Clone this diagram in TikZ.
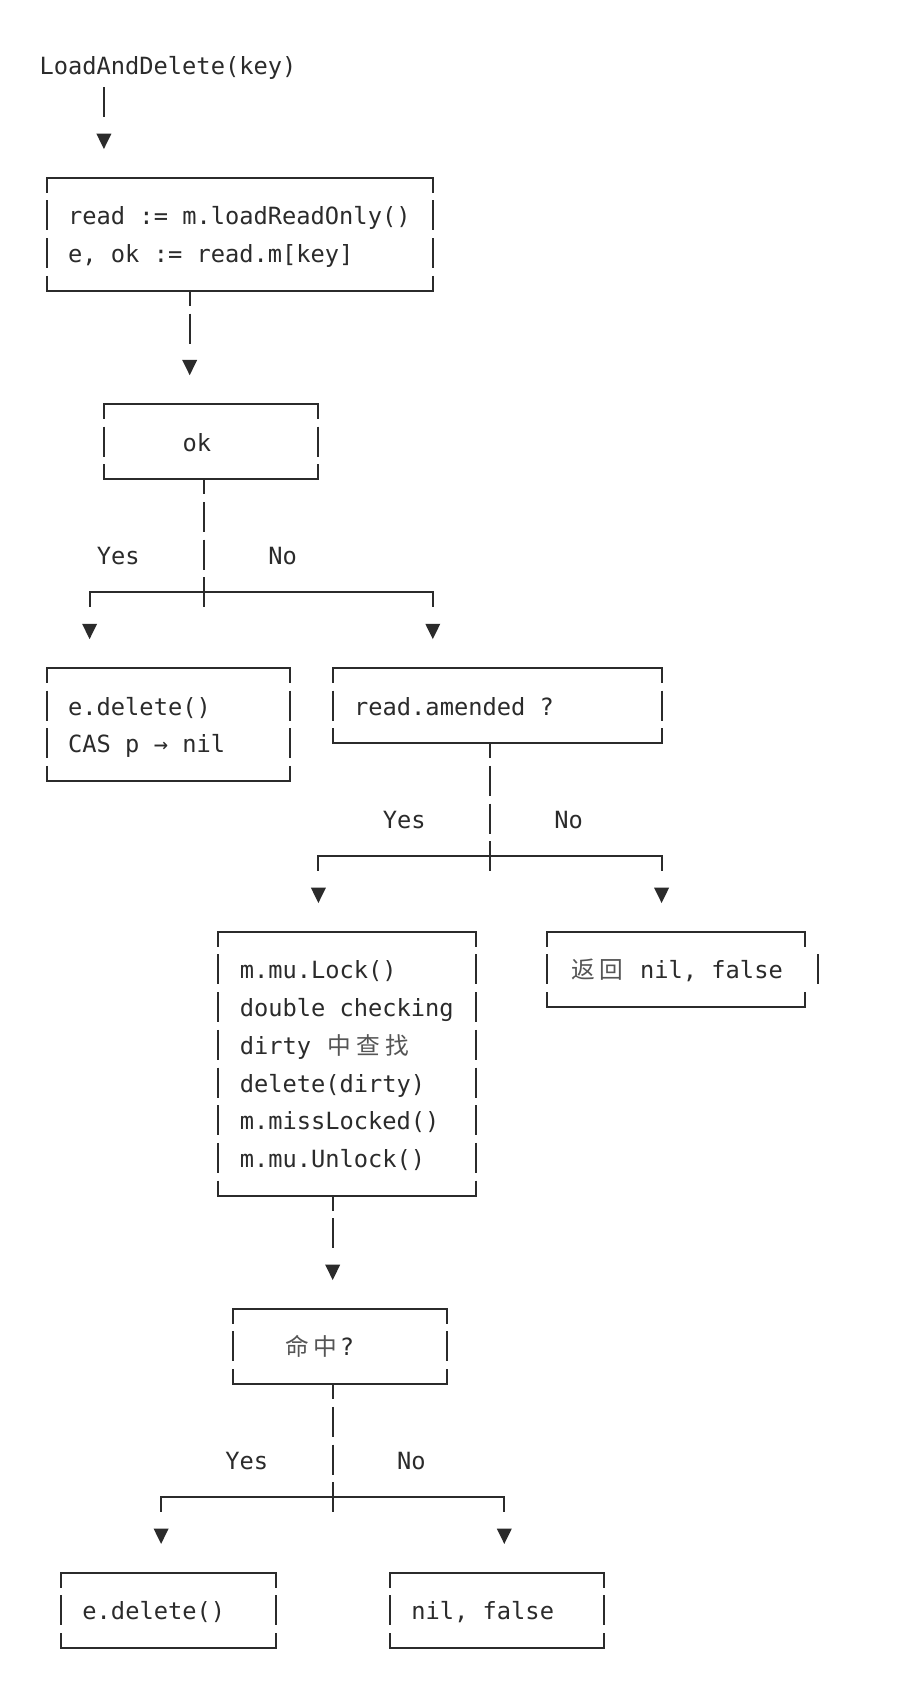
\documentclass[tikz,border=0pt]{standalone}
\usepackage{fontspec}
\setmonofont{DejaVu Sans Mono}
\newfontfamily\cjk{Noto Sans CJK SC}
\usetikzlibrary{fit}
\definecolor{ink}{HTML}{2B2B2B}
\definecolor{zhgray}{HTML}{555555}
\newcommand\zh[1]{\makebox[28.6pt][c]{\cjk\color{zhgray}#1}}
\newcommand\colx[1]{(46.7+14.3*(#1))}
\newcommand\rowy[1]{(64.6+37.7*(#1))}
\newcommand\txtx[1]{(39.55+14.3*(#1))}
\newcommand\basey[1]{(74.1+37.7*(#1))}
\begin{document}
\begin{tikzpicture}[x=1pt,y=-1pt,
  txt/.style={anchor=base west, inner sep=0pt, outer sep=0pt, text=ink,
    font=\fontsize{23.7pt}{28pt}\selectfont\ttfamily},
  frame/.style={draw=none, inner sep=0pt, outer sep=0pt},
  vline/.style={draw=ink, line width=2pt, dash pattern=on 30pt off 7.7pt, dash phase=15pt},
  hline/.style={draw=ink, line width=2pt, line cap=rect},
  sline/.style={draw=ink, line width=2pt}
]
\newcommand\mkframe[5]{%
  \coordinate (#1nw) at ({\colx{#2}},{\rowy{#4}});
  \coordinate (#1se) at ({\colx{#3}},{\rowy{#5}});
  \node[frame, fit=(#1nw)(#1se)] (#1) {};
  \draw[hline] (#1.north west) -- (#1.north east);
  \draw[hline] (#1.south west) -- (#1.south east);
  \draw[vline] (#1.north west) -- (#1.south west);}
\newcommand\rightside[1]{\draw[vline] (#1.north east) -- (#1.south east);}
\newcommand\stem[4]{%
  \coordinate (#1a) at ({\colx{#2}},{\rowy{#3}});
  \coordinate (#1b) at ({\colx{#2}},{\rowy{#4}+15});
  \draw[vline] (#1a) -- (#1b);}
\newcommand\branch[4]{%
  \coordinate (#1l) at ({\colx{#2}},{\rowy{#4}});
  \coordinate (#1r) at ({\colx{#3}},{\rowy{#4}});
  \draw[hline] (#1l) -- (#1r);
  \draw[sline] (#1l) -- ++(0,15);
  \draw[sline] (#1r) -- ++(0,15);}
\newcommand\arrowdown[3]{%
  \coordinate (#1) at ({\colx{#2}},{\rowy{#3}});
  \fill[ink] (#1) ++(-7.5,-6.3) -- ++(15,0) -- ++(-7.5,15.3) -- cycle;}

\fill[white] (0,0) rectangle (922,1701);
\useasboundingbox (0,0) rectangle (922,1701);

% start
\node[txt] (t0) at ({\txtx{0}},{\basey{0}}) {LoadAndDelete(key)};
\coordinate (s0a) at ({\colx{4}},{\rowy{1}-15});
\coordinate (s0b) at ({\colx{4}},{\rowy{1}+15});
\draw[sline] (s0a) -- (s0b);
\arrowdown{a0}{4}{2}

% box 1
\mkframe{b1}{0}{27}{3}{6}\rightside{b1}
\node[txt] (t1) at ({\txtx{2}},{\basey{4}}) {read := m.loadReadOnly()};
\node[txt] (t2) at ({\txtx{2}},{\basey{5}}) {e, ok := read.m[key]};
\stem{s1}{10}{6}{7}
\arrowdown{a1}{10}{8}

% ok
\mkframe{b2}{4}{19}{9}{11}\rightside{b2}
\node[txt] (t3) at ({\txtx{10}},{\basey{10}}) {ok};
\stem{s2}{11}{11}{14}
\node[txt] (y1) at ({\txtx{4}},{\basey{13}}) {Yes};
\node[txt] (n1) at ({\txtx{16}},{\basey{13}}) {No};
\branch{br1}{3}{27}{14}
\arrowdown{a2}{3}{15}
\arrowdown{a3}{27}{15}

% e.delete / CAS
\mkframe{b3}{0}{17}{16}{19}\rightside{b3}
\node[txt] (t4) at ({\txtx{2}},{\basey{17}}) {e.delete()};
\node[txt] (t5) at ({\txtx{2}},{\basey{18}}) {CAS p → nil};

% read.amended
\mkframe{b4}{20}{43}{16}{18}\rightside{b4}
\node[txt] (t6) at ({\txtx{22}},{\basey{17}}) {read.amended ?};
\stem{s3}{31}{18}{21}
\node[txt] (y2) at ({\txtx{24}},{\basey{20}}) {Yes};
\node[txt] (n2) at ({\txtx{36}},{\basey{20}}) {No};
\branch{br2}{19}{43}{21}
\arrowdown{a4}{19}{22}
\arrowdown{a5}{43}{22}

% lock box
\mkframe{b5}{12}{30}{23}{30}\rightside{b5}
\node[txt] (t7) at ({\txtx{14}},{\basey{24}}) {m.mu.Lock()};
\node[txt] (t8) at ({\txtx{14}},{\basey{25}}) {double checking};
\node[txt] (t9) at ({\txtx{14}},{\basey{26}}) {dirty \zh{中}\zh{查}\zh{找}};
\node[txt] (t10) at ({\txtx{14}},{\basey{27}}) {delete(dirty)};
\node[txt] (t11) at ({\txtx{14}},{\basey{28}}) {m.missLocked()};
\node[txt] (t12) at ({\txtx{14}},{\basey{29}}) {m.mu.Unlock()};

% return nil,false
\mkframe{b6}{35}{53}{23}{25}
\draw[sline] (b6.north east) -- ++(0,15);
\draw[sline] (b6.south east) -- ++(0,-15);
\coordinate (b6m) at (817.5,{\rowy{24}});
\draw[sline] (b6m) ++(0,-15) -- ++(0,30);
\node[txt] (t13) at ({\txtx{37}},{\basey{24}}) {\zh{返}\zh{回} nil, false};

\stem{s4}{20}{30}{31}
\arrowdown{a6}{20}{32}

% hit?
\mkframe{b7}{13}{28}{33}{35}\rightside{b7}
\node[txt] (t14) at ({\txtx{17}},{\basey{34}}) {\zh{命}\zh{中}?};
\stem{s5}{20}{35}{38}
\node[txt] (y3) at ({\txtx{13}},{\basey{37}}) {Yes};
\node[txt] (n3) at ({\txtx{25}},{\basey{37}}) {No};
\branch{br3}{8}{32}{38}
\arrowdown{a7}{8}{39}
\arrowdown{a8}{32}{39}

% final boxes
\mkframe{b8}{1}{16}{40}{42}\rightside{b8}
\node[txt] (t15) at ({\txtx{3}},{\basey{41}}) {e.delete()};
\mkframe{b9}{24}{39}{40}{42}\rightside{b9}
\node[txt] (t16) at ({\txtx{26}},{\basey{41}}) {nil, false};
\end{tikzpicture}
\end{document}
